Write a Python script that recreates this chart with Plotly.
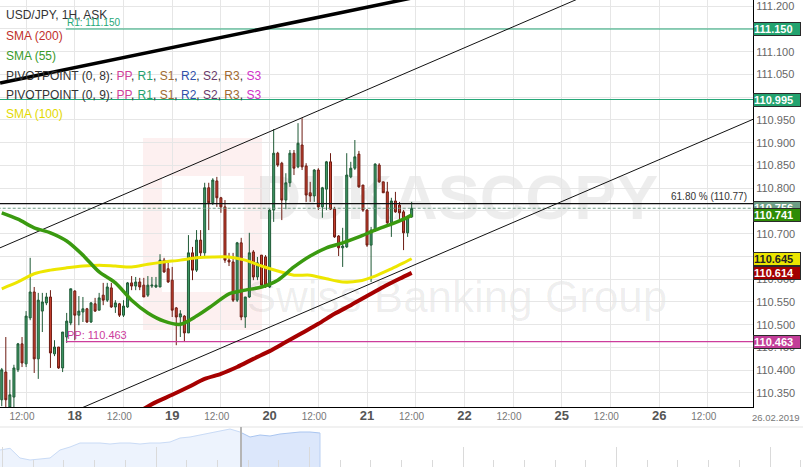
import plotly.graph_objects as go

# ---------------- data ----------------
# hourly candles, x = hour index relative to 18 Feb 00:00 (weekend removed)
candle_hours = list(range(-18, 84))

opens = [
    110.335, 110.396, 110.319, 110.341, 110.401, 110.458, 110.414, 110.515, 110.572, 110.425,
    110.530, 110.548, 110.561, 110.436, 110.451, 110.405, 110.473, 110.504, 110.574, 110.521,
    110.528, 110.535, 110.506, 110.546, 110.532, 110.565, 110.554, 110.581, 110.539, 110.546,
    110.521, 110.539, 110.592, 110.585, 110.594, 110.587, 110.565, 110.585, 110.583, 110.583,
    110.642, 110.623, 110.598, 110.537, 110.517, 110.519, 110.482, 110.658, 110.620, 110.686,
    110.658, 110.801, 110.768, 110.816, 110.779, 110.759, 110.642, 110.638, 110.554, 110.680,
    110.517, 110.561, 110.660, 110.605, 110.653, 110.649, 110.583, 110.752, 110.877, 110.855,
    110.774, 110.812, 110.877, 110.847, 110.895, 110.849, 110.790, 110.783, 110.840, 110.759,
    110.798, 110.858, 110.754, 110.695, 110.669, 110.671, 110.825, 110.844, 110.875, 110.807,
    110.752, 110.675, 110.708, 110.851, 110.814, 110.792, 110.724, 110.772, 110.763, 110.748,
    110.702, 110.737]
highs = [
    110.405, 110.473, 110.379, 110.412, 110.460, 110.473, 110.530, 110.647, 110.583, 110.570,
    110.570, 110.570, 110.576, 110.466, 110.451, 110.484, 110.526, 110.579, 110.576, 110.563,
    110.561, 110.537, 110.550, 110.559, 110.570, 110.592, 110.592, 110.592, 110.554, 110.548,
    110.554, 110.594, 110.607, 110.605, 110.603, 110.603, 110.607, 110.605, 110.605, 110.655,
    110.647, 110.636, 110.627, 110.539, 110.532, 110.521, 110.697, 110.671, 110.708, 110.708,
    110.812, 110.812, 110.822, 110.825, 110.781, 110.774, 110.658, 110.658, 110.682, 110.691,
    110.561, 110.702, 110.664, 110.649, 110.653, 110.653, 110.754, 110.930, 110.880, 110.858,
    110.833, 110.884, 110.884, 110.943, 110.954, 110.855, 110.814, 110.842, 110.844, 110.803,
    110.860, 110.877, 110.759, 110.697, 110.713, 110.877, 110.858, 110.906, 110.882, 110.807,
    110.754, 110.715, 110.855, 110.855, 110.814, 110.814, 110.779, 110.792, 110.770, 110.752,
    110.737, 110.770]
lows = [
    110.321, 110.308, 110.313, 110.319, 110.396, 110.407, 110.407, 110.510, 110.394, 110.381,
    110.484, 110.543, 110.405, 110.431, 110.403, 110.396, 110.460, 110.499, 110.466, 110.499,
    110.506, 110.504, 110.504, 110.528, 110.532, 110.543, 110.550, 110.537, 110.526, 110.517,
    110.517, 110.537, 110.576, 110.576, 110.576, 110.561, 110.561, 110.581, 110.581, 110.583,
    110.614, 110.592, 110.517, 110.455, 110.473, 110.462, 110.482, 110.598, 110.616, 110.649,
    110.649, 110.708, 110.763, 110.759, 110.746, 110.636, 110.629, 110.550, 110.550, 110.510,
    110.493, 110.559, 110.598, 110.598, 110.583, 110.581, 110.581, 110.726, 110.847, 110.730,
    110.754, 110.803, 110.829, 110.844, 110.840, 110.770, 110.770, 110.770, 110.752, 110.735,
    110.752, 110.752, 110.691, 110.651, 110.627, 110.669, 110.822, 110.840, 110.801, 110.748,
    110.671, 110.594, 110.704, 110.812, 110.790, 110.719, 110.693, 110.746, 110.730, 110.664,
    110.693, 110.735]
closes = [
    110.401, 110.335, 110.346, 110.405, 110.458, 110.416, 110.519, 110.572, 110.425, 110.554,
    110.550, 110.561, 110.438, 110.451, 110.405, 110.484, 110.508, 110.579, 110.521, 110.530,
    110.535, 110.506, 110.548, 110.530, 110.559, 110.554, 110.583, 110.539, 110.548, 110.521,
    110.541, 110.592, 110.585, 110.594, 110.583, 110.561, 110.587, 110.587, 110.587, 110.642,
    110.616, 110.594, 110.532, 110.517, 110.524, 110.482, 110.658, 110.620, 110.686, 110.658,
    110.801, 110.768, 110.818, 110.779, 110.759, 110.642, 110.638, 110.554, 110.680, 110.517,
    110.561, 110.658, 110.605, 110.636, 110.587, 110.587, 110.752, 110.877, 110.851, 110.774,
    110.812, 110.877, 110.844, 110.899, 110.847, 110.785, 110.783, 110.840, 110.759, 110.801,
    110.858, 110.754, 110.693, 110.669, 110.673, 110.829, 110.844, 110.869, 110.803, 110.752,
    110.675, 110.708, 110.853, 110.814, 110.790, 110.724, 110.772, 110.748, 110.746, 110.702,
    110.737, 110.756]

sma200_hours = [16, 20, 24, 28, 32, 36, 40, 44, 48, 52, 56, 60, 64, 68, 72, 76, 80, 83]
sma200_values = [110.310, 110.330, 110.346, 110.363, 110.381, 110.392, 110.407, 110.425, 110.442,
                 110.462, 110.482, 110.502, 110.524, 110.543, 110.563, 110.583, 110.601, 110.614]

sma55_hours = [-18, -14, -10, -6, -2, 2, 6, 10, 14, 18, 22, 26, 30, 34, 38, 42, 46, 50, 54, 58,
               62, 66, 70, 74, 78, 81, 83]
sma55_values = [110.746, 110.732, 110.713, 110.702, 110.684, 110.653, 110.616, 110.592, 110.554,
                110.526, 110.508, 110.501, 110.519, 110.543, 110.568, 110.576, 110.583, 110.598,
                110.627, 110.651, 110.669, 110.680, 110.693, 110.708, 110.721, 110.732, 110.741]

sma100_hours = [-18, -14, -10, -6, -2, 2, 6, 10, 14, 18, 22, 26, 30, 34, 38, 42, 46, 50, 54, 58,
                62, 66, 70, 74, 78, 81, 83]
sma100_values = [110.579, 110.594, 110.612, 110.620, 110.625, 110.629, 110.631, 110.629, 110.627,
                 110.633, 110.638, 110.642, 110.647, 110.649, 110.649, 110.642, 110.629, 110.618,
                 110.609, 110.609, 110.601, 110.594, 110.596, 110.607, 110.623, 110.636, 110.645]

# drawn trend lines (hour, price)
trend_thick_hours = [-18.4, 90]
trend_thick_prices = [111.031, 111.231]
channel_upper_hours = [-18.43, 129.4]
channel_upper_prices = [110.669, 111.237]
channel_lower_hours = [-1.2, 168.8]
channel_lower_prices = [110.306, 110.958]

# horizontal levels
r1_level = 111.150
upper_level = 110.995
fib_level = 110.766
last_price = 110.756
pp_level = 110.463
pivot_start_hour = -2.2

# right-axis price tags: value, text, background, text colour
tag_values = [111.150, 110.995, 110.756, 110.741, 110.645, 110.614, 110.463]
tag_texts = ["111.150", "110.995", "110.756", "110.741", "110.645", "110.614", "110.463"]
tag_bg = ["#23a36f", "#23a36f", "#6d9e85", "#2e8c06", "#ece500", "#a30000", "#c23d98"]
tag_fg = ["#ffffff", "#ffffff", "#ffffff", "#ffffff", "#222222", "#ffffff", "#ffffff"]

# x-axis ticks
tick_hours = [-12, 0, 12, 24, 36, 48, 60, 72, 84, 96, 108, 120, 132, 144, 156]
tick_labels = ["12:00", "18", "12:00", "19", "12:00", "20", "12:00", "21", "12:00", "22",
               "12:00", "25", "12:00", "26", "12:00"]

# navigator (overview) heights
nav_values = [17, 18.7, 9, 7, 8, 9, 17, 20, 24, 24, 24, 23, 24, 24, 23, 24, 24, 25, 29, 30, 32,
              34, 36, 38, 35, 30, 32, 31, 33, 34, 35, 35, 34]
nav_split = 24

# ---------------- figure ----------------
W, H = 803, 467
PLOT_RIGHT, PLOT_BOTTOM, NAV_TOP = 753, 407, 427
FONT = "Arial, Liberation Sans, sans-serif"


def fx(px):
    return px / W


def fy(py):
    return 1 - py / H


fig = go.Figure()

# horizontal levels
xr_right = 170
level_specs = [
    ([pivot_start_hour, xr_right], r1_level, "rgb(38,168,120)", "solid", 1.2),
    ([-19, xr_right], upper_level, "rgb(38,168,120)", "solid", 1.2),
    ([-19, xr_right], fib_level, "rgb(17,17,17)", "solid", 1.3),
    ([-19, xr_right], last_price, "rgb(111,159,134)", "3px,2px", 1),
    ([pivot_start_hour, xr_right], pp_level, "rgb(204,61,156)", "solid", 1.2),
]
for xs, lvl, col, dash, wd in level_specs:
    fig.add_trace(go.Scatter(x=xs, y=[lvl, lvl], mode="lines",
                             line=dict(color=col, width=wd, dash=dash), hoverinfo="skip"))

# channel lines
fig.add_trace(go.Scatter(x=channel_upper_hours, y=channel_upper_prices, mode="lines",
                         line=dict(color="#111111", width=1), hoverinfo="skip"))
fig.add_trace(go.Scatter(x=channel_lower_hours, y=channel_lower_prices, mode="lines",
                         line=dict(color="#111111", width=1), hoverinfo="skip"))
fig.add_trace(go.Scatter(x=trend_thick_hours, y=trend_thick_prices, mode="lines",
                         line=dict(color="#000000", width=3.5), hoverinfo="skip"))

# candles
fig.add_trace(go.Candlestick(
    x=candle_hours, open=opens, high=highs, low=lows, close=closes,
    increasing=dict(fillcolor="#3f9a66", line=dict(color="#1f5a36", width=1)),
    decreasing=dict(fillcolor="#c8412f", line=dict(color="#6d1b12", width=1)),
    whiskerwidth=0, hoverinfo="skip"))

# moving averages
fig.add_trace(go.Scatter(x=sma200_hours, y=sma200_values, mode="lines",
                         line=dict(color="#a60000", width=4, shape="spline", smoothing=0.8),
                         hoverinfo="skip"))
fig.add_trace(go.Scatter(x=sma100_hours, y=sma100_values, mode="lines",
                         line=dict(color="#ede600", width=3, shape="spline", smoothing=0.8),
                         hoverinfo="skip"))
fig.add_trace(go.Scatter(x=sma55_hours, y=sma55_values, mode="lines",
                         line=dict(color="#3a9a10", width=3.5, shape="spline", smoothing=0.8),
                         hoverinfo="skip"))

# navigator
nav_idx = list(range(len(nav_values)))
fig.add_trace(go.Scatter(x=nav_idx[:nav_split + 1], y=nav_values[:nav_split + 1], mode="lines",
                         fill="tozeroy", fillcolor="#edf3fd", line=dict(color="#c9dbf6", width=1),
                         xaxis="x2", yaxis="y2", hoverinfo="skip"))
fig.add_trace(go.Scatter(x=nav_idx[nav_split:], y=nav_values[nav_split:], mode="lines",
                         fill="tozeroy", fillcolor="#dce7fb", line=dict(color="#a9c5f0", width=1),
                         xaxis="x2", yaxis="y2", hoverinfo="skip"))

# ---------------- text ----------------
ann = []
legend_rows = [
    ("USD/JPY, 1H, ASK", "#333333", 15),
    ("SMA (200)", "#c0302a", 36),
    ("SMA (55)", "#3a9a2a", 56),
    ('PIVOTPOINT (0, 8): <span style="color:#d0409a">PP</span>, <span style="color:#1fa070">R1</span>, '
     '<span style="color:#a06a30">S1</span>, <span style="color:#3050a8">R2</span>, '
     '<span style="color:#6a3a6a">S2</span>, <span style="color:#a06a30">R3</span>, '
     '<span style="color:#d030c8">S3</span>', "#333333", 76),
    ('PIVOTPOINT (0, 9): <span style="color:#d0409a">PP</span>, <span style="color:#1fa070">R1</span>, '
     '<span style="color:#a06a30">S1</span>, <span style="color:#3050a8">R2</span>, '
     '<span style="color:#6a3a6a">S2</span>, <span style="color:#a06a30">R3</span>, '
     '<span style="color:#d030c8">S3</span>', "#333333", 95),
    ("SMA (100)", "#e3d900", 114),
]
for txt, col, py in legend_rows:
    ann.append(dict(text=txt, xref="paper", yref="paper", x=fx(4), y=fy(py), xanchor="left",
                    yanchor="middle", showarrow=False, font=dict(size=12, color=col, family=FONT)))

ann.append(dict(text="R1: 111.150", x=pivot_start_hour, y=r1_level, xref="x", yref="y",
                xanchor="left", yanchor="bottom", showarrow=False, borderpad=0,
                font=dict(size=10, color="#26a878", family=FONT)))
ann.append(dict(text="PP: 110.463", x=pivot_start_hour, y=pp_level, xref="x", yref="y",
                xanchor="left", yanchor="bottom", showarrow=False, borderpad=0,
                font=dict(size=11, color="#cc3d9c", family=FONT)))
ann.append(dict(text="61.80 % (110.77)", x=fx(749), y=fib_level, xref="paper", yref="y",
                xanchor="right", yanchor="bottom", showarrow=False, borderpad=1,
                font=dict(size=10, color="#333333", family=FONT)))

for v, t, bg, fg in zip(tag_values, tag_texts, tag_bg, tag_fg):
    ann.append(dict(text="<b>" + t + "</b>", x=fx(PLOT_RIGHT), y=v, xref="paper", yref="y",
                    xanchor="left", yanchor="middle", showarrow=False, align="left",
                    width=46, height=12, bgcolor=bg, bordercolor="#2a2a2a", borderwidth=1,
                    borderpad=0, font=dict(size=11, color=fg, family=FONT)))

ann.append(dict(text="26.02.2019", x=fx(PLOT_RIGHT), y=fy(417), xref="paper", yref="paper",
                xanchor="left", yanchor="middle", showarrow=False, xshift=-3,
                font=dict(size=9.5, color="#777777", family=FONT)))

ticktext = []
for lab in tick_labels:
    if ":" in lab:
        ticktext.append(lab + "&nbsp;&nbsp;&nbsp;")
    else:
        ticktext.append('<b><span style="font-size:13px;color:#555555">' + lab + "</span></b>")

# ---------------- decorations (watermark, navigator chrome) ----------------
pink = "rgba(225,40,40,0.07)"
shapes = []
for x0, x1, y0, y1 in [(143, 162, 138, 330), (162, 262, 138, 176), (244, 262, 176, 330),
                       (162, 244, 292, 330)]:
    shapes.append(dict(type="rect", xref="paper", yref="paper", x0=fx(x0), x1=fx(x1),
                       y0=fy(y1), y1=fy(y0), line=dict(width=0), fillcolor=pink, layer="below"))
shapes.append(dict(type="rect", xref="paper", yref="paper", x0=fx(262), x1=fx(652),
                   y0=fy(237), y1=fy(145), line=dict(width=0), fillcolor="rgba(0,0,0,0)",
                   layer="below",
                   label=dict(text="DUKASCOPY", textposition="middle center",
                              font=dict(size=63, color="rgba(0,0,0,0.07)", weight="bold",
                                        family=FONT))))
shapes.append(dict(type="rect", xref="paper", yref="paper", x0=fx(262), x1=fx(652),
                   y0=fy(322), y1=fy(262), line=dict(width=0), fillcolor="rgba(0,0,0,0)",
                   layer="below",
                   label=dict(text="Swiss Banking Group", textposition="middle center",
                              font=dict(size=44, color="rgba(0,0,0,0.07)", family=FONT))))
shapes.append(dict(type="line", xref="paper", yref="paper", x0=0, x1=1, y0=fy(NAV_TOP),
                   y1=fy(NAV_TOP), line=dict(color="#e3e3e3", width=1)))
shapes.append(dict(type="line", xref="paper", yref="paper", x0=fx(241), x1=fx(241), y0=0,
                   y1=fy(NAV_TOP), line=dict(color="#b5b5b5", width=2)))
shapes.append(dict(type="line", xref="paper", yref="paper", x0=fx(320), x1=fx(320), y0=0,
                   y1=fy(NAV_TOP + 6), line=dict(color="#b9cff2", width=1)))

fig.update_layout(
    width=W, height=H, margin=dict(l=0, r=0, t=0, b=0), autosize=False,
    paper_bgcolor="white", plot_bgcolor="white", showlegend=False, hovermode=False,
    font=dict(family=FONT, size=11, color="#555555"),
    annotations=ann, shapes=shapes,
    xaxis=dict(domain=[0, fx(PLOT_RIGHT)], range=[-18.43, 167.1], anchor="y",
               tickmode="array", tickvals=tick_hours, ticktext=ticktext,
               tickfont=dict(size=10, color="#777777", family=FONT),
               showgrid=True, gridcolor="#e6e6e6", gridwidth=1, zeroline=False,
               showline=True, linecolor="#000000", linewidth=1, ticks="",
               rangeslider=dict(visible=False), automargin=False, fixedrange=True),
    yaxis=dict(domain=[fy(PLOT_BOTTOM), 1], range=[110.3192, 111.2137], anchor="x", side="right",
               tickmode="linear", tick0=110.0, dtick=0.05, tickformat=".3f",
               tickfont=dict(size=11, color="#666666", family=FONT),
               showgrid=True, gridcolor="#e6e6e6", gridwidth=1, zeroline=False,
               showline=True, linecolor="#000000", linewidth=1, ticks="", automargin=False,
               fixedrange=True),
    xaxis2=dict(domain=[0, 1], range=[0, 80.3], anchor="y2", showgrid=False, zeroline=False,
                showticklabels=False, showline=False, ticks="inside", tickmode="linear",
                tick0=0.25, dtick=15.35, ticklen=20, tickcolor="#dadada", tickwidth=1,
                minor=dict(ticks="inside", dtick=3.07, tick0=0.25, ticklen=7,
                           tickcolor="#dadada", tickwidth=1),
                automargin=False, fixedrange=True),
    yaxis2=dict(domain=[0, fy(NAV_TOP)], range=[0, 40], anchor="x2", visible=False,
                fixedrange=True),
)

fig.write_html(
    "out.html",
    config={"displayModeBar": False, "staticPlot": True},
    post_script="document.body.style.margin='0px';document.body.style.overflow='hidden';",
)
